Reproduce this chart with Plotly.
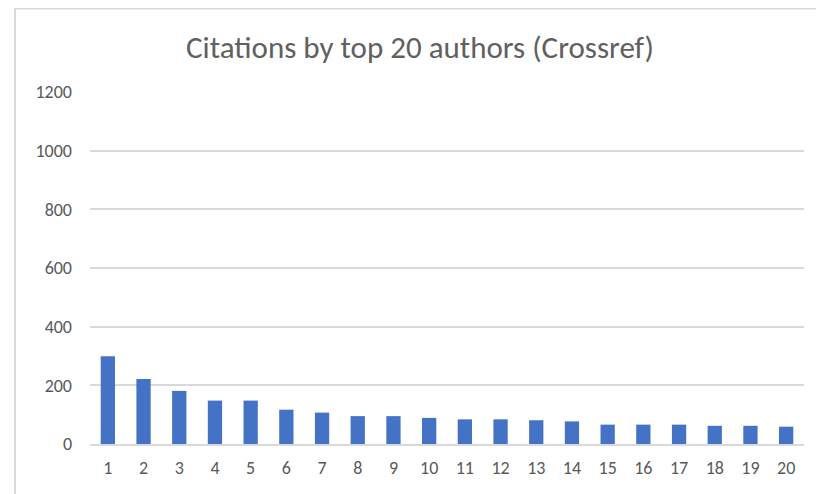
import plotly.graph_objects as go

# author rank and citation counts
ranks = [str(i) for i in range(1, 21)]
citations = [299, 222, 181, 148, 148, 117, 107, 95, 95, 89,
             84, 84, 81, 77, 66, 66, 66, 62, 62, 59]
y_ticks = [0, 200, 400, 600, 800, 1000, 1200]

# page puts the figure 8px in from the top-left, so margins are shifted to match
W, H = 824, 494
L, T = 82, 84
pw, ph = 714, 352
R, B = W - L - pw, H - T - ph

fig = go.Figure()
fig.add_trace(go.Bar(x=ranks, y=citations, marker=dict(color='#4472C4', line=dict(width=0))))

font = "Carlito, 'Open Sans', sans-serif"
fig.update_layout(
    width=W, height=H,
    margin=dict(l=L, r=R, t=T, b=B),
    paper_bgcolor='white', plot_bgcolor='white',
    bargap=0.6,
    showlegend=False,
    title=dict(text='Citations by top 20 authors (Crossref)', x=0.5, xanchor='center',
               y=1 - 39 / H, yanchor='middle',
               font=dict(family=font, size=31, color='#606060')),
    xaxis=dict(type='category', showgrid=False, showline=True, linecolor='#d9d9d9', linewidth=1.5,
               ticks='', tickfont=dict(family=font, size=18, color='#595959'), ticklabelstandoff=7),
    yaxis=dict(range=[0, 1200], tickvals=y_ticks, showgrid=True, gridcolor='#d9d9d9', gridwidth=1.5,
               zeroline=False, ticks='', tickfont=dict(family=font, size=18, color='#595959'),
               ticklabelstandoff=17),
)

# light grey chart-area border (Excel style), running off the right and bottom
fig.add_shape(type='rect', xref='paper', yref='paper',
              x0=(7 - L) / pw, x1=(W + 20 - L) / pw,
              y0=-(B + 20) / ph, y1=(T - 0.5) / ph + 1,
              line=dict(color='#d9d9d9', width=2), layer='below')

fig.write_html("out.html")
